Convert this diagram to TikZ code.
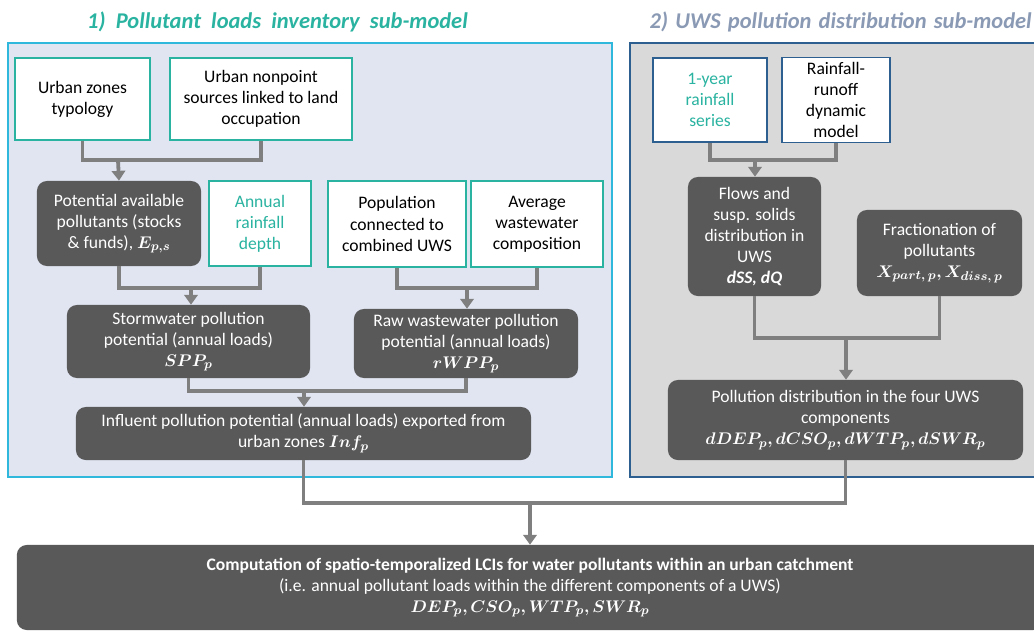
\documentclass[tikz,border=0pt]{standalone}
\usepackage{fontspec}
\setmainfont{Carlito}
\usepackage{amsmath,bm}
\usetikzlibrary{calc,arrows.meta}
\definecolor{uwsteal}{HTML}{2AB3A0}
\definecolor{uwsblue}{HTML}{2E5F91}
\definecolor{uwscyan}{HTML}{2FB7DC}
\definecolor{uwsgrey}{HTML}{8A99B4}
\definecolor{darkfill}{HTML}{595959}
\definecolor{linkgrey}{HTML}{7F7F7F}
\definecolor{leftfill}{HTML}{E1E5F2}
\definecolor{rightfill}{HTML}{D9D9D9}
\newcommand\boxfont{\fontsize{12.5}{15}\selectfont}
\newcommand\wsp{\ \hspace{1.5pt}}
\def\inbox{\node[inbox]}
\def\calcbox{\node[calcbox]}

\begin{document}
\begin{tikzpicture}[x=0.025cm,y=-0.025cm,
  inbox/.style={draw=uwsteal,line width=1pt,fill=white,align=center,font=\boxfont},
  calcbox/.style={fill=darkfill,rounded corners=7pt,text=white,align=center,font=\boxfont},
  link/.style={draw=linkgrey,line width=2.7pt},
  arr/.style={link,-{Triangle[width=9.5pt,length=7pt]}},
  title/.style={font=\fontsize{16}{19}\selectfont\bfseries\itshape}]
\useasboundingbox (0,0) rectangle (1034,632);
\fill[leftfill,draw=uwscyan,line width=1pt] (8,43) rectangle (612,477);
\fill[rightfill,draw=uwsblue,line width=1pt] (630,43) rectangle (1045,477);
\node[title,text=uwsteal] (title1) at (277.5,22) {1)\ \ Pollutant\ \ loads\ \ inventory\ \ sub-model};
\node[title,text=uwsgrey,anchor=east,inner xsep=0pt] (title2) at (1032,22) {2)\wsp UWS\wsp pollution\wsp distribution\wsp sub-model};

\inbox[minimum width=3.375cm,minimum height=2.05cm] (typo) at (82.5,99) {Urban zones\\typology};
\inbox[minimum width=4.55cm,minimum height=2.05cm] (nonpoint) at (261,99) {Urban nonpoint\\sources linked to land\\occupation};
\calcbox[minimum width=4.1cm,minimum height=2.125cm] (stock) at (119,223.5) {Potential available\\pollutants (stocks\\\& funds), $\bm{E_{p,s}}$};
\inbox[minimum width=2.55cm,minimum height=2.125cm,text=uwsteal] (depth) at (260,223.5) {Annual\\rainfall\\depth};
\inbox[minimum width=3.45cm,minimum height=2.15cm] (popul) at (397,224) {Population\\connected to\\combined UWS};
\inbox[minimum width=3.3cm,minimum height=2.15cm] (compo) at (537,224) {Average\\wastewater\\composition};
\calcbox[minimum width=6.075cm,minimum height=1.825cm] (spp) at (188.5,341.5) {Stormwater pollution\\potential (annual loads)\\$\bm{SPP_p}$};
\calcbox[minimum width=5.6cm,minimum height=1.725cm] (rwpp) at (466,343.5) {Raw wastewater pollution\\potential (annual loads)\\$\bm{rWPP_p}$};
\calcbox[minimum width=11.375cm,minimum height=1.325cm] (inf) at (303.5,433.5) {Influent pollution potential (annual loads) exported from\\urban zones $\bm{Inf_p}$};

\inbox[draw=uwsblue,minimum width=2.85cm,minimum height=2.1cm,text=uwsteal] (series) at (710,100) {1-year\\rainfall\\series};
\inbox[draw=uwsblue,minimum width=2.7cm,minimum height=2.1cm] (runoff) at (836,100) {Rainfall-\\runoff\\dynamic\\model};
\calcbox[minimum width=3.325cm,minimum height=2.975cm] (flows) at (754.5,236.5) {Flows and\\susp. solids\\distribution in\\UWS\\\textbf{\textit{dSS, dQ}}};
\calcbox[minimum width=4.125cm,minimum height=2.15cm] (fract) at (939.5,253) {Fractionation of\\pollutants\\$\bm{X_{part,\,p}, X_{diss,\,p}}$};
\calcbox[minimum width=8.875cm,minimum height=2cm] (distr) at (845.5,420) {Pollution distribution in the four UWS\\components\\$\bm{dDEP_p, dCSO_p, dWTP_p, dSWR_p}$};

\calcbox[minimum width=25.65cm,minimum height=2.125cm] (lci) at (530,587.5) {\textbf{Computation of spatio-temporalized LCIs for water pollutants within an urban catchment}\\(i.e. annual pollutant loads within the different components of a UWS)\\$\bm{DEP_p, CSO_p, WTP_p, SWR_p}$};

\coordinate (j1) at (118,160);
\coordinate (j2) at (191,288);
\coordinate (j3) at (467,288);
\coordinate (j4) at (304,391);
\coordinate (j5) at (755,160);
\coordinate (j6) at (846,338);
\coordinate (j7) at (530,503);
\draw[link] (typo.south) |- (j1) -| (nonpoint.south);
\draw[arr] (j1) -- (stock.north);
\draw[link] (stock.south) |- (j2) -| (depth.south);
\draw[arr] (j2) -- (j2 |- spp.north);
\draw[link] (popul.south) |- (j3) -| (compo.south);
\draw[arr] (j3) -- (j3 |- rwpp.north);
\draw[link] (spp.south) |- (j4) -| (rwpp.south);
\draw[arr] (j4) -- (j4 |- inf.north);
\draw[link] (series.south) |- (j5) -| (runoff.south);
\draw[arr] (j5) -- (j5 |- flows.north);
\draw[link] (flows.south) |- (j6) -| (fract.south);
\draw[arr] (j6) -- (j6 |- distr.north);
\draw[link] (inf.south) |- (j7) -| (distr.south);
\draw[arr] (j7) -- (lci.north);
\end{tikzpicture}
\end{document}
